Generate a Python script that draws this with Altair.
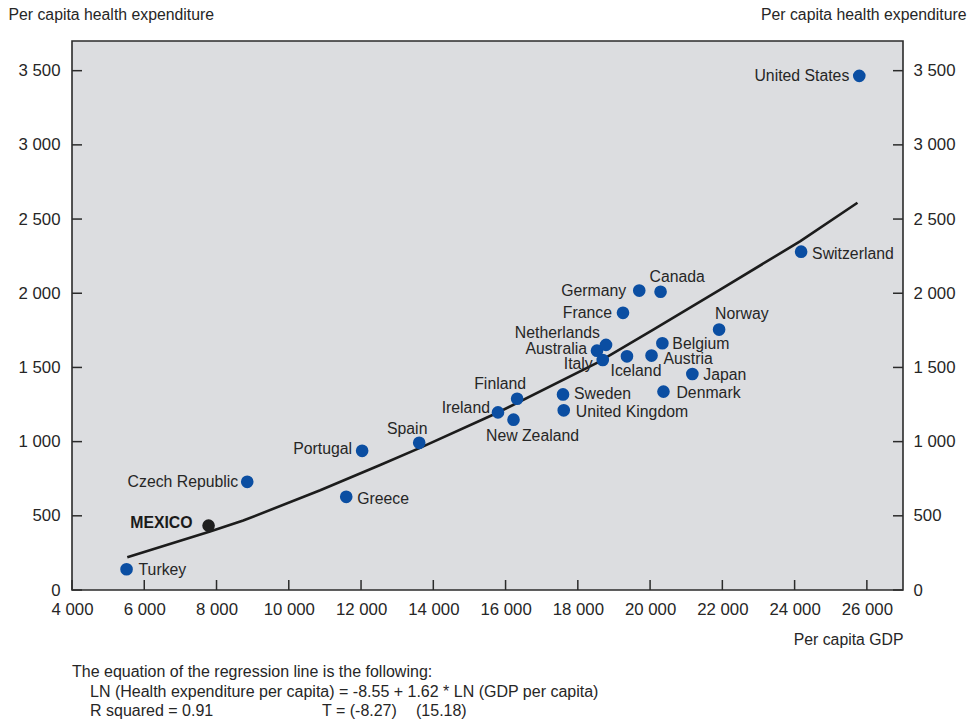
import altair as alt
import pandas as pd

# Per capita GDP and per capita health expenditure by country
countries = ["Turkey", "MEXICO", "Czech Republic", "Greece", "Portugal", "Spain",
             "Ireland", "New Zealand", "Finland", "Sweden", "United Kingdom",
             "Australia", "Italy", "Netherlands", "France", "Iceland", "Germany",
             "Austria", "Canada", "Belgium", "Denmark", "Japan", "Norway",
             "Switzerland", "United States"]
gdp = [5510, 7780, 8850, 11590, 12030, 13610, 15790, 16220, 16320, 17590, 17610,
       18530, 18690, 18780, 19250, 19360, 19700, 20040, 20290, 20340, 20370,
       21170, 21910, 24180, 25790]
health = [140, 434, 729, 628, 938, 992, 1197, 1148, 1289, 1318, 1211, 1613, 1550,
          1652, 1868, 1575, 2018, 1580, 2010, 1663, 1337, 1456, 1755, 2280, 3465]

# Fitted regression curve
fit_gdp = [5530, 7820, 8740, 10870, 12530, 13630, 15760, 18530, 20090, 21940, 24160, 25740]
fit_health = [221, 394, 468, 672, 842, 958, 1193, 1530, 1755, 2025, 2351, 2610]

x_ticks = list(range(4000, 26001, 2000))
y_ticks = list(range(0, 3501, 500))

notes = [
    "The equation of the regression line is the following:",
    "LN (Health expenditure per capita) = -8.55 + 1.62 * LN (GDP per capita)",
    "R squared = 0.91",
    "T = (-8.27)",
    "(15.18)",
]

# label placement: align, dx, dy (pixels from the dot)
placement = {
    "Turkey": ("left", 12, 1), "MEXICO": ("right", -16, -3),
    "Czech Republic": ("right", -9, 0), "Greece": ("left", 11, 2),
    "Portugal": ("right", -10, -2), "Spain": ("center", -12, -14),
    "Ireland": ("right", -8, -4), "New Zealand": ("center", 19, 16),
    "Finland": ("center", -17, -15), "Sweden": ("left", 11, 0),
    "United Kingdom": ("left", 12, 2), "Australia": ("right", -10, -2),
    "Italy": ("right", -10, 4), "Netherlands": ("right", -6, -12),
    "France": ("right", -11, 0), "Iceland": ("center", 9, 15),
    "Germany": ("right", -13, 0), "Austria": ("left", 12, 3),
    "Canada": ("left", -11, -15), "Belgium": ("left", 10, 1),
    "Denmark": ("left", 13, 1), "Japan": ("left", 11, 1),
    "Norway": ("left", -4, -16), "Switzerland": ("left", 11, 2),
    "United States": ("right", -10, 0),
}

W, H = 831, 549
FONT = "Liberation Sans"
TXT = "#262626"
BLUE = "#0b4ea2"

pts = pd.DataFrame({"country": countries, "gdp": gdp, "spend": health})
pts["group"] = ["mexico" if c == "MEXICO" else "oecd" for c in countries]
fit = pd.DataFrame({"gdp": fit_gdp, "spend": fit_health})
ydf = pd.DataFrame({"tick": y_ticks})
xdf = pd.DataFrame({"gdp": x_ticks})

xscale = alt.Scale(domain=[4000, 27000], nice=False, zero=False)
yscale = alt.Scale(domain=[0, 3700], nice=False, zero=False)
fmt = "replace(format(datum.value, ','), ',', ' ')"

x_axis = alt.Axis(values=x_ticks, labelExpr=fmt, ticks=False, domain=False, grid=False,
                  labelFlush=False, labelOverlap=False, labelFont=FONT, labelFontSize=16.8,
                  labelColor=TXT, labelPadding=11,
                  title="Per capita GDP", titleFont=FONT, titleFontSize=15.8,
                  titleFontWeight="normal", titleColor=TXT, titleAngle=0,
                  titleAlign="right", titleBaseline="middle", titleX=W, titleY=49)

def y_axis(orient):
    right = orient == "right"
    return alt.Axis(orient=orient, values=y_ticks, labelExpr=fmt, ticks=False,
                    domain=False, grid=False, labelFlush=False, labelOverlap=False,
                    labelFont=FONT, labelFontSize=16.8, labelColor=TXT,
                    labelPadding=10 if right else 12,
                    title="Per capita health expenditure", titleFont=FONT,
                    titleFontSize=15.8, titleFontWeight="normal", titleColor=TXT,
                    titleAngle=0, titleAlign="right" if right else "left",
                    titleBaseline="middle", titleX=63 if right else -64, titleY=-27)

X = alt.X("gdp:Q", scale=xscale, axis=x_axis)

line = alt.Chart(fit).mark_line(color="#1c1c1c", strokeWidth=2.6).encode(
    x=X, y=alt.Y("spend:Q", scale=yscale, axis=y_axis("left")))

dots = alt.Chart(pts).mark_circle(size=160, opacity=1).encode(
    x=X, y=alt.Y("spend:Q", scale=yscale, axis=None),
    color=alt.Color("group:N", scale=alt.Scale(domain=["oecd", "mexico"],
                                               range=[BLUE, "#1e1e1e"]), legend=None))

labels = []
for c in countries:
    a, dx, dy = placement[c]
    bold = c == "MEXICO"
    labels.append(
        alt.Chart(pts).transform_filter(alt.datum.country == c).mark_text(
            align=a, baseline="middle", dx=dx, dy=dy, font=FONT,
            fontSize=15.8, fontWeight="bold" if bold else "normal",
            color="#1a1a1a" if bold else TXT,
        ).encode(x=X, y=alt.Y("spend:Q", scale=yscale, axis=None), text="country:N"))

# inward tick marks on the left, right and bottom edges
tick_style = dict(color="#2b2b2b", strokeWidth=1.5)
left_ticks = alt.Chart(ydf).mark_rule(**tick_style).encode(
    y=alt.Y("tick:Q", scale=yscale, axis=None), x=alt.value(0), x2=alt.value(10))
right_ticks = alt.Chart(ydf).mark_rule(**tick_style).encode(
    y=alt.Y("tick:Q", scale=yscale, axis=y_axis("right")), x=alt.value(W - 10), x2=alt.value(W))
bottom_ticks = alt.Chart(xdf).mark_rule(**tick_style).encode(
    x=X, y=alt.value(H - 10), y2=alt.value(H))

# regression notes under the chart
note_pos = [(0, 631), (18, 651), (18, 670), (250, 670), (344, 670)]
note_layers = []
for t, (px, py) in zip(notes, note_pos):
    note_layers.append(
        alt.Chart(pd.DataFrame({"t": [t]})).mark_text(
            align="left", baseline="middle", font=FONT, fontSize=16, color=TXT
        ).encode(x=alt.value(px), y=alt.value(py), text="t:N"))

chart = alt.layer(
    line, left_ticks, right_ticks, bottom_ticks, dots, *labels, *note_layers
).resolve_scale(y="shared").resolve_axis(y="independent").properties(
    width=W, height=H,
    autosize=alt.AutoSizeParams(type="none"),
    padding={"left": 72, "top": 41, "right": 71, "bottom": 134},
    background="white",
).configure_view(fill="#dcdde0", stroke="#2b2b2b", strokeWidth=1.6)

chart.save("out.html", embed_options={"renderer": "svg", "actions": False})
